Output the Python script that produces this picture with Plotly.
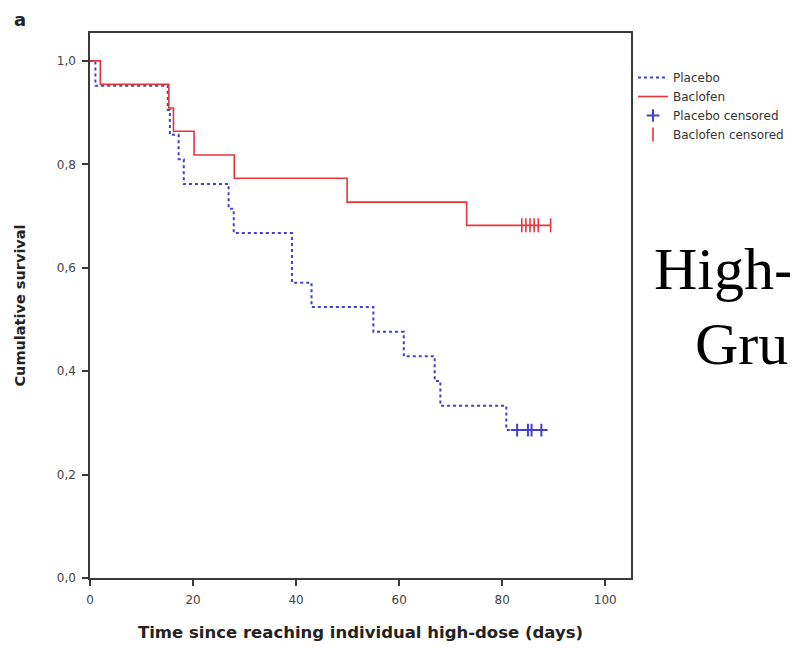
import plotly.graph_objects as go

# ---- data ----
placebo_time = [0, 1.05, 15.1, 15.5, 17.2, 18.2, 26.9, 27.9, 39.2, 43.0, 55.0, 60.9, 66.9, 68.0, 80.8, 87.6]
placebo_surv = [1.0, 0.952, 0.905, 0.857, 0.810, 0.762, 0.714, 0.667, 0.571, 0.524, 0.476, 0.429, 0.381, 0.333, 0.286, 0.286]

baclofen_time = [0, 2.0, 15.3, 16.2, 20.2, 28.0, 49.9, 73.1, 89.5]
baclofen_surv = [1.0, 0.955, 0.909, 0.864, 0.818, 0.773, 0.727, 0.682, 0.682]

placebo_censored = [82.9, 85.0, 85.7, 87.6]
baclofen_censored = [83.8, 84.6, 85.4, 86.2, 87.0, 89.4]

x_ticks = [0, 20, 40, 60, 80, 100]
y_ticks = [0.0, 0.2, 0.4, 0.6, 0.8, 1.0]

BLUE = "#4040cc"
RED = "#e8343a"
AX = "#3a3a3a"
SANS = "DejaVu Sans, Verdana, sans-serif"
SERIF = "Liberation Serif, Times New Roman, serif"

fig = go.Figure()
fig.add_trace(go.Scatter(x=placebo_time, y=placebo_surv, mode="lines", line_shape="hv",
                         line=dict(color=BLUE, width=2, dash="dot"), name="Placebo"))
fig.add_trace(go.Scatter(x=baclofen_time, y=baclofen_surv, mode="lines", line_shape="hv",
                         line=dict(color=RED, width=1.6), name="Baclofen"))
fig.add_trace(go.Scatter(x=placebo_censored, y=[placebo_surv[-1]] * len(placebo_censored),
                         mode="markers", name="Placebo censored",
                         marker=dict(symbol="cross-thin", size=9, line=dict(color=BLUE, width=2))))
fig.add_trace(go.Scatter(x=baclofen_censored, y=[baclofen_surv[-1]] * len(baclofen_censored),
                         mode="markers", name="Baclofen censored",
                         marker=dict(symbol="line-ns", size=10, line=dict(color=RED, width=1.6))))

OFF = 8  # page offset of the figure (body margin)
L, R, T, B = 82, 175, 25, 78
W, H = 798, 648
pw, ph = W - L - R, H - T - B

def px(x_page):
    return (x_page - OFF - L) / pw

def py(y_page):
    return (H - B - (y_page - OFF)) / ph

fig.update_layout(
    width=W, height=H, autosize=False,
    margin=dict(l=L, r=R, t=T, b=B, pad=0),
    paper_bgcolor="white", plot_bgcolor="white",
    separators=",.",
    font=dict(family=SANS, color="#333"),
    showlegend=True,
    legend=dict(x=px(633), y=py(63), xanchor="left", yanchor="top",
                font=dict(size=12, color="#333", family=SANS), bgcolor="rgba(0,0,0,0)",
                tracegroupgap=0, itemwidth=30),
    xaxis=dict(range=[0, 105], tickvals=x_ticks, ticks="outside", ticklen=6, tickwidth=1.5,
               tickcolor=AX, showline=True, linecolor=AX, linewidth=1.5, mirror=True,
               showgrid=False, zeroline=False, ticklabelstandoff=4,
               tickfont=dict(size=12, color="#444", family=SANS),
               title=dict(text="Time since reaching individual high-dose (days)",
                          font=dict(size=16.5, color="#222", weight="bold", family=SANS), standoff=20)),
    yaxis=dict(range=[0, 1.054], tickvals=y_ticks, tickformat=".1f", ticks="outside", ticklen=6,
               tickwidth=1.5, tickcolor=AX, showline=True, linecolor=AX, linewidth=1.5, mirror=True,
               showgrid=False, zeroline=False, ticklabelstandoff=4,
               tickfont=dict(size=12, color="#444", family=SANS),
               title=dict(text="Cumulative survival",
                          font=dict(size=14.5, color="#222", weight="bold", family=SANS), standoff=28)),
    annotations=[
        dict(text="a", x=px(20), y=py(19), xref="paper", yref="paper", showarrow=False,
             xanchor="center", yanchor="middle",
             font=dict(size=18, color="#222", weight="bold", family=SANS)),
        dict(text="High-", x=px(652), y=py(269), xref="paper", yref="paper", showarrow=False,
             xanchor="left", yanchor="middle",
             font=dict(size=60, color="black", family=SERIF)),
        dict(text="Gru", x=px(693), y=py(344), xref="paper", yref="paper", showarrow=False,
             xanchor="left", yanchor="middle",
             font=dict(size=60, color="black", family=SERIF)),
    ],
)

fig.write_html("out.html")
